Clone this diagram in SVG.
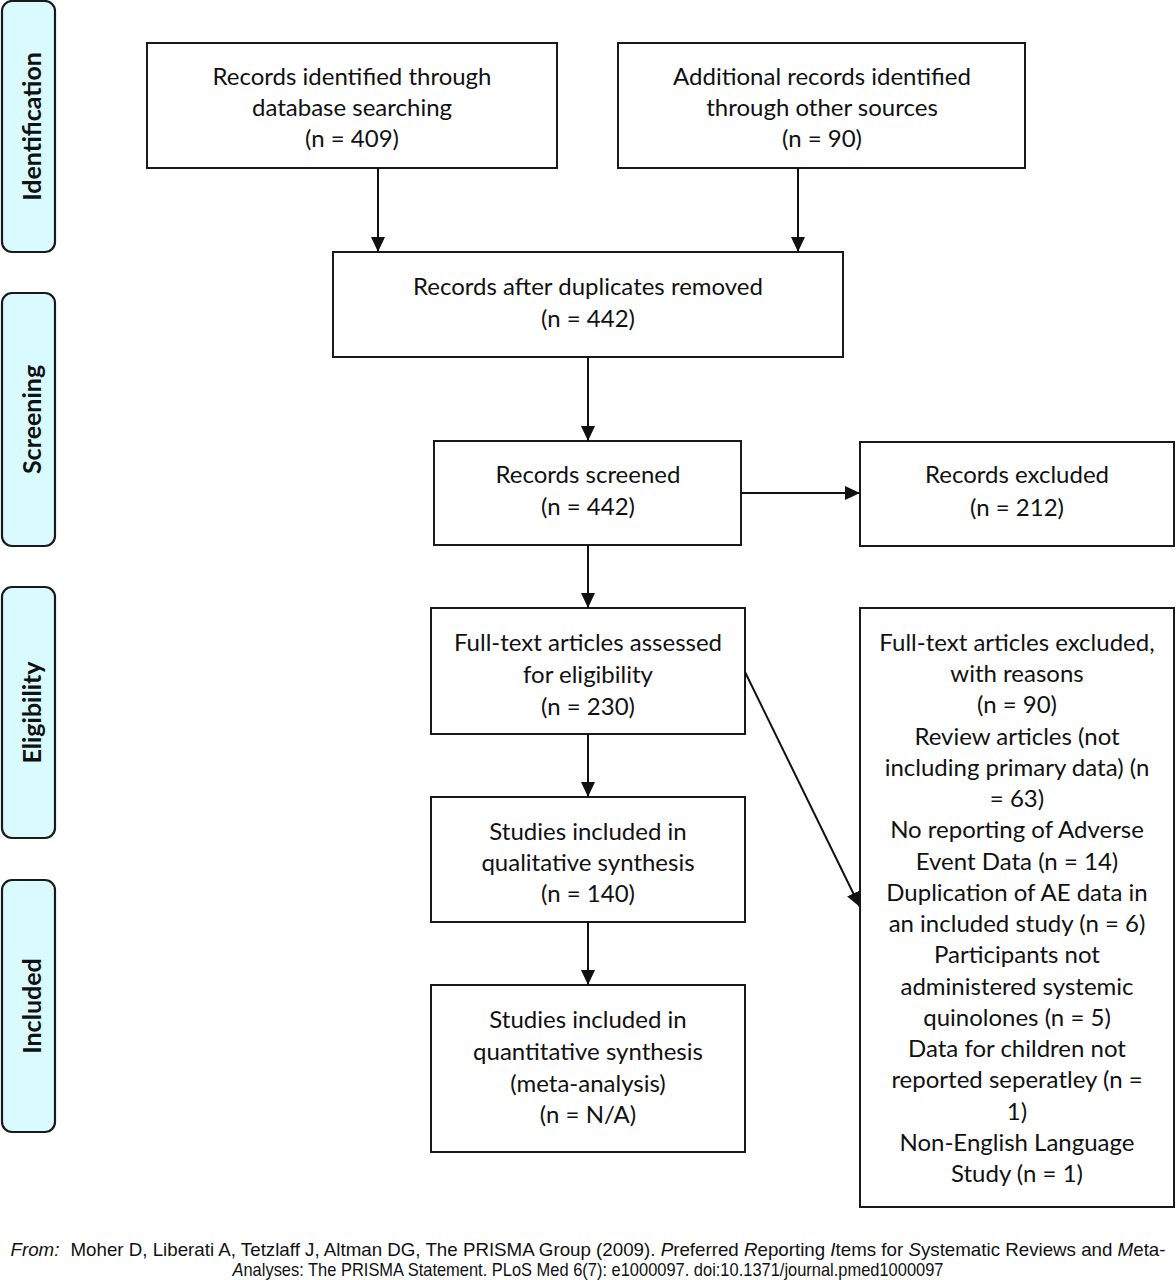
<svg xmlns="http://www.w3.org/2000/svg" width="1176" height="1280" viewBox="0 0 1176 1280">
<defs>
<marker id="ah" markerUnits="userSpaceOnUse" markerWidth="16" markerHeight="14" refX="15" refY="7" orient="auto">
<path d="M0,0 L15,7 L0,14 z" fill="#111"/>
</marker>
<style>
.box{fill:#fff;stroke:#1a1a1a;stroke-width:2}
.side{fill:#d9fbff;stroke:#1a1a1a;stroke-width:2.2}
.t{font-family:Lato,"Carlito","Liberation Sans",sans-serif;font-size:24px;fill:#111;text-anchor:middle}
.s{font-family:Lato,"Liberation Sans",sans-serif;font-size:25px;font-weight:bold;fill:#111;text-anchor:middle}
.c{stroke:#111;stroke-width:2;fill:none;marker-end:url(#ah)}
.f{font-family:"Liberation Sans",Arial,sans-serif;font-size:19px;fill:#111;text-anchor:middle}
</style>
</defs>
<rect width="1176" height="1280" fill="#fff"/>

<g id="side-identification">
<rect class="side" x="2" y="1" width="53" height="251" rx="10"/>
<text class="s" transform="translate(41,126.5) rotate(-90)">Identification</text>
</g>
<g id="side-screening">
<rect class="side" x="2" y="293" width="53" height="253" rx="10"/>
<text class="s" transform="translate(41,419.5) rotate(-90)">Screening</text>
</g>
<g id="side-eligibility">
<rect class="side" x="2" y="587" width="53" height="251" rx="10"/>
<text class="s" transform="translate(41,712.5) rotate(-90)">Eligibility</text>
</g>
<g id="side-included">
<rect class="side" x="2" y="880" width="53" height="252" rx="10"/>
<text class="s" transform="translate(41,1006) rotate(-90)">Included</text>
</g>

<g id="n-database">
<rect class="box" x="147" y="43" width="410" height="125"/>
<text class="t" x="352" y="85">Records identified through</text>
<text class="t" x="352" y="116">database searching</text>
<text class="t" x="352" y="147">(n = 409)</text>
</g>
<g id="n-other">
<rect class="box" x="618" y="43" width="407" height="125"/>
<text class="t" x="822" y="85">Additional records identified</text>
<text class="t" x="822" y="116">through other sources</text>
<text class="t" x="822" y="147">(n = 90)</text>
</g>
<g id="n-dedup">
<rect class="box" x="333" y="252" width="510" height="105"/>
<text class="t" x="588" y="295">Records after duplicates removed</text>
<text class="t" x="588" y="327">(n = 442)</text>
</g>
<g id="n-screened">
<rect class="box" x="434" y="441" width="307" height="104"/>
<text class="t" x="588" y="483">Records screened</text>
<text class="t" x="588" y="515">(n = 442)</text>
</g>
<g id="n-excluded">
<rect class="box" x="860" y="442" width="314" height="104"/>
<text class="t" x="1017" y="483">Records excluded</text>
<text class="t" x="1017" y="516">(n = 212)</text>
</g>
<g id="n-fulltext">
<rect class="box" x="431" y="608" width="314" height="126"/>
<text class="t" x="588" y="651">Full-text articles assessed</text>
<text class="t" x="588" y="683">for eligibility</text>
<text class="t" x="588" y="715">(n = 230)</text>
</g>
<g id="n-qualitative">
<rect class="box" x="431" y="797" width="314" height="125"/>
<text class="t" x="588" y="840">Studies included in</text>
<text class="t" x="588" y="871">qualitative synthesis</text>
<text class="t" x="588" y="902">(n = 140)</text>
</g>
<g id="n-quantitative">
<rect class="box" x="431" y="985" width="314" height="167"/>
<text class="t" x="588" y="1028">Studies included in</text>
<text class="t" x="588" y="1060">quantitative synthesis</text>
<text class="t" x="588" y="1092">(meta-analysis)</text>
<text class="t" x="588" y="1123">(n = N/A)</text>
</g>
<g id="n-ftexcluded">
<rect class="box" x="860" y="608" width="314" height="599"/>
<text class="t" x="1017" y="651">Full-text articles excluded,</text>
<text class="t" x="1017" y="682">with reasons</text>
<text class="t" x="1017" y="713">(n = 90)</text>
<text class="t" x="1017" y="745">Review articles (not</text>
<text class="t" x="1017" y="776">including primary data) (n</text>
<text class="t" x="1017" y="807">= 63)</text>
<text class="t" x="1017" y="838">No reporting of Adverse</text>
<text class="t" x="1017" y="870">Event Data (n = 14)</text>
<text class="t" x="1017" y="901">Duplication of AE data in</text>
<text class="t" x="1017" y="932">an included study (n = 6)</text>
<text class="t" x="1017" y="963">Participants not</text>
<text class="t" x="1017" y="995">administered systemic</text>
<text class="t" x="1017" y="1026">quinolones (n = 5)</text>
<text class="t" x="1017" y="1057">Data for children not</text>
<text class="t" x="1017" y="1088">reported seperatley (n =</text>
<text class="t" x="1017" y="1120">1)</text>
<text class="t" x="1017" y="1151">Non-English Language</text>
<text class="t" x="1017" y="1182">Study (n = 1)</text>
</g>

<g id="connectors">
<line class="c" x1="378" y1="168" x2="378" y2="252"/>
<line class="c" x1="798" y1="168" x2="798" y2="252"/>
<line class="c" x1="588" y1="357" x2="588" y2="441"/>
<line class="c" x1="741" y1="493" x2="860" y2="493"/>
<line class="c" x1="588" y1="545" x2="588" y2="608"/>
<line class="c" x1="588" y1="734" x2="588" y2="797"/>
<line class="c" x1="588" y1="922" x2="588" y2="985"/>
<line class="c" x1="745" y1="672" x2="860" y2="907"/>
</g>

<g id="footer">
<text class="f" x="588" y="1256" textLength="1155" lengthAdjust="spacingAndGlyphs"><tspan font-style="italic">From:</tspan><tspan dx="6"> Moher D, Liberati A, Tetzlaff J, Altman DG, The PRISMA Group (2009). </tspan><tspan font-style="italic">P</tspan>referred <tspan font-style="italic">R</tspan>eporting <tspan font-style="italic">I</tspan>tems for <tspan font-style="italic">S</tspan>ystematic Reviews and <tspan font-style="italic">M</tspan>eta-</text>
<text class="f" x="588" y="1276" textLength="711" lengthAdjust="spacingAndGlyphs"><tspan font-style="italic">A</tspan>nalyses: The PRISMA Statement. PLoS Med 6(7): e1000097. doi:10.1371/journal.pmed1000097</text>
</g>
</svg>
